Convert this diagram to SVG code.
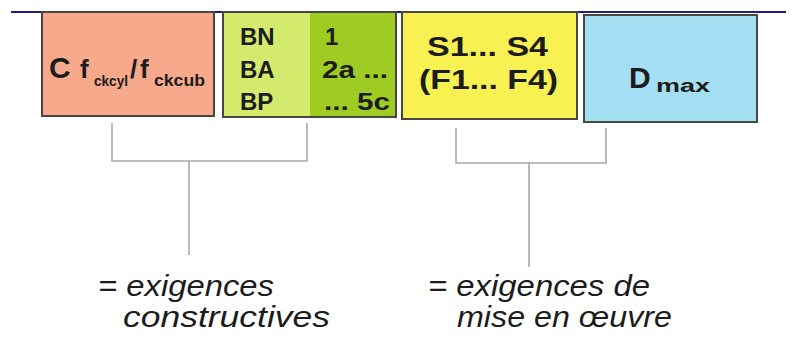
<svg xmlns="http://www.w3.org/2000/svg" width="798" height="340" viewBox="0 0 798 340">
<style>
.box{stroke:#4a4640;stroke-width:2}
.b{font-family:"Liberation Sans",Arial,sans-serif;font-weight:bold;fill:#1c1c1c}
.i{font-family:"Liberation Sans",Arial,sans-serif;font-style:italic;fill:#1c1c1c;font-size:30px}
.br{fill:none;stroke:#a9a9a9;stroke-width:1.6}
</style>
<rect width="798" height="340" fill="#ffffff"/>
<line x1="11" y1="12" x2="786" y2="12" stroke="#1d1d86" stroke-width="2"/>
<g id="node-c">
<rect class="box" x="42" y="12" width="172" height="104" fill="#f6a98b"/>
<text class="b" y="78" fill="#3a1a12"><tspan x="49" font-size="30">C</tspan><tspan x="80" font-size="26">f</tspan><tspan x="94" y="86" font-size="15" textLength="34" lengthAdjust="spacingAndGlyphs">ckcyl</tspan><tspan x="130" y="78" font-size="26">/</tspan><tspan x="140" font-size="26">f</tspan><tspan x="154" y="86" font-size="16" textLength="51" lengthAdjust="spacingAndGlyphs">ckcub</tspan></text>
</g>
<g id="node-b">
<rect x="223" y="12" width="87" height="105" fill="#d3ea6c"/>
<rect x="310" y="12" width="86" height="105" fill="#9fcc22"/>
<rect class="box" x="223" y="12" width="173" height="105" fill="none"/>
<text class="b" x="240" y="45" font-size="24">BN</text>
<text class="b" x="240" y="78" font-size="24">BA</text>
<text class="b" x="240" y="110" font-size="24">BP</text>
<text class="b" x="325" y="45" font-size="24">1</text>
<text class="b" x="322" y="78" font-size="24" textLength="66" lengthAdjust="spacingAndGlyphs">2a ...</text>
<text class="b" x="324" y="110" font-size="24" textLength="66" lengthAdjust="spacingAndGlyphs">... 5c</text>
</g>
<g id="node-s">
<rect class="box" x="402" y="12" width="175" height="107" fill="#f7f251"/>
<text class="b" x="427" y="56" font-size="28" textLength="121" lengthAdjust="spacingAndGlyphs">S1... S4</text>
<text class="b" x="419" y="89" font-size="28" textLength="139" lengthAdjust="spacingAndGlyphs">(F1... F4)</text>
</g>
<g id="node-d">
<rect class="box" x="584" y="15" width="173" height="107" fill="#a3def2"/>
<text class="b" y="88"><tspan x="629" font-size="30">D</tspan><tspan x="656" y="92" font-size="18" textLength="54" lengthAdjust="spacingAndGlyphs">max</tspan></text>
</g>
<g id="connectors">
<path class="br" d="M112,123 V161 H307 V123 M189,161 V255"/>
<path class="br" d="M456,128 V163 H606 V128 M529,163 V267"/>
</g>
<g id="label-constructives">
<text class="i" x="98" y="296" textLength="176" lengthAdjust="spacingAndGlyphs">= exigences</text>
<text class="i" x="123" y="327" textLength="207" lengthAdjust="spacingAndGlyphs">constructives</text>
</g>
<g id="label-mise">
<text class="i" x="428" y="296" textLength="222" lengthAdjust="spacingAndGlyphs">= exigences de</text>
<text class="i" x="457" y="327" textLength="215" lengthAdjust="spacingAndGlyphs">mise en œuvre</text>
</g>
</svg>
